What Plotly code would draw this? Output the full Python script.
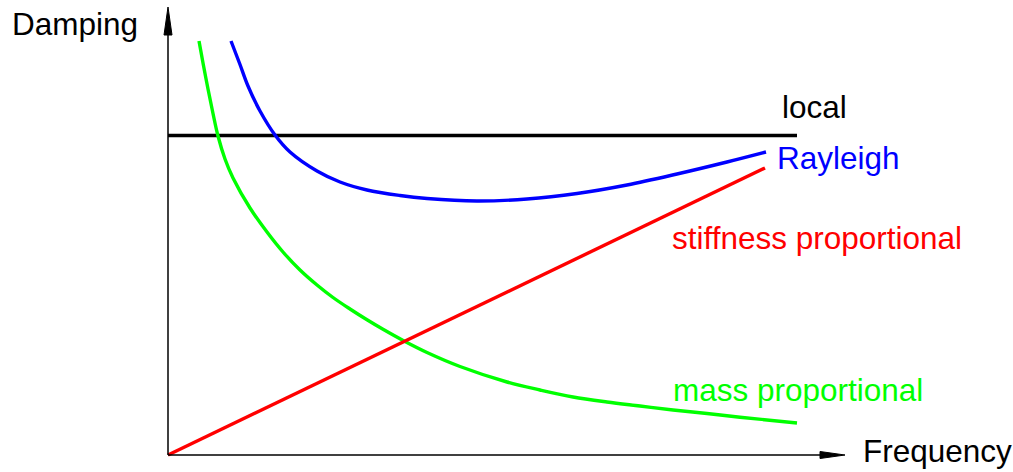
import plotly.graph_objects as go

MASS_FREQ = [0.31, 0.35, 0.40, 0.45, 0.50, 0.57, 0.65, 0.82, 0.99, 1.15, 1.32, 1.49, 1.65,
             1.82, 1.99, 2.15, 2.37, 2.59, 2.92, 3.39, 3.72, 4.05, 4.39, 4.72, 5.05, 5.39,
             5.72, 6.29]
MASS_DAMP = [4.14, 3.92, 3.66, 3.415, 3.19, 2.96, 2.77, 2.47, 2.23, 2.03, 1.85, 1.70,
             1.575, 1.46, 1.352, 1.257, 1.135, 1.025, 0.885, 0.73, 0.65, 0.58, 0.53, 0.49,
             0.45, 0.415, 0.378, 0.32]

RAYLEIGH_FREQ = [0.63, 0.72, 0.80, 0.92, 1.07, 1.22, 1.49, 1.72, 1.99, 2.32, 2.59, 3.09,
                 3.59, 4.09, 4.59, 5.09, 5.59, 5.98]
RAYLEIGH_DAMP = [4.14, 3.905, 3.69, 3.44, 3.20, 3.03, 2.84, 2.73, 2.65, 2.595, 2.565, 2.54,
                 2.56, 2.615, 2.70, 2.81, 2.93, 3.03]

STIFF_FREQ = [0.0, 5.97]
STIFF_DAMP = [0.0, 2.87]

LOCAL_FREQ = [0.0, 6.29]
LOCAL_DAMP = [3.195, 3.195]

# ── Style ────────────────────────────────────────────────────────────
FONT = "Liberation Sans, Arial, sans-serif"
FS = 31.5
LW = 3.4

FIG_W, FIG_H = 1013, 472
X_RANGE = [-1.68, 8.45]
Y_RANGE = [-0.17, 4.55]

fig = go.Figure()

series = [
    (LOCAL_FREQ, LOCAL_DAMP, "#000000", "local"),
    (MASS_FREQ, MASS_DAMP, "#00FF00", "mass proportional"),
    (STIFF_FREQ, STIFF_DAMP, "#FF0000", "stiffness proportional"),
    (RAYLEIGH_FREQ, RAYLEIGH_DAMP, "#0000FF", "Rayleigh"),
]
for xs, ys, color, name in series:
    fig.add_trace(go.Scatter(
        x=xs, y=ys, mode="lines", name=name,
        line=dict(color=color, width=LW, shape="spline", smoothing=1.0),
        hoverinfo="skip", showlegend=False, cliponaxis=False,
    ))

# ── Axes with arrows (drawn as shapes) ───────────────────────────────
fig.add_shape(type="line", x0=0, y0=0, x1=0, y1=4.22,
              line=dict(color="#000", width=1.5))
fig.add_shape(type="path", path="M -0.04 4.20 L 0 4.48 L 0.04 4.20 Z",
              fillcolor="#000", line=dict(color="#000", width=1))
fig.add_shape(type="line", x0=0, y0=0, x1=6.54, y1=0,
              line=dict(color="#000", width=1.5))
fig.add_shape(type="path", path="M 6.52 0.035 L 6.77 0 L 6.52 -0.035 Z",
              fillcolor="#000", line=dict(color="#000", width=1))

# ── Labels ───────────────────────────────────────────────────────────
labels = [
    ("Damping", -1.58, 4.31, "#000000"),
    ("Frequency", 6.93, 0.04, "#000000"),
    ("local", 6.12, 3.48, "#000000"),
    ("Rayleigh", 6.07, 2.97, "#0000FF"),
    ("stiffness proportional", 5.02, 2.17, "#FF0000"),
    ("mass proportional", 5.03, 0.65, "#00FF00"),
]
for text, x, y, color in labels:
    fig.add_annotation(
        x=x, y=y, xref="x", yref="y", text=text, showarrow=False,
        xanchor="left", yanchor="middle",
        font=dict(family=FONT, size=FS, color=color),
    )

fig.update_xaxes(range=X_RANGE, visible=False, fixedrange=True)
fig.update_yaxes(range=Y_RANGE, visible=False, fixedrange=True)
fig.update_layout(
    width=FIG_W, height=FIG_H,
    margin=dict(l=0, r=0, t=0, b=0),
    paper_bgcolor="white", plot_bgcolor="white",
    showlegend=False,
)

# drop the default 8px page margin so the figure fills the window
fig.write_html(
    "out.html",
    config={"displayModeBar": False, "staticPlot": True},
    post_script="document.body.style.margin='0';document.body.style.overflow='hidden';",
)
